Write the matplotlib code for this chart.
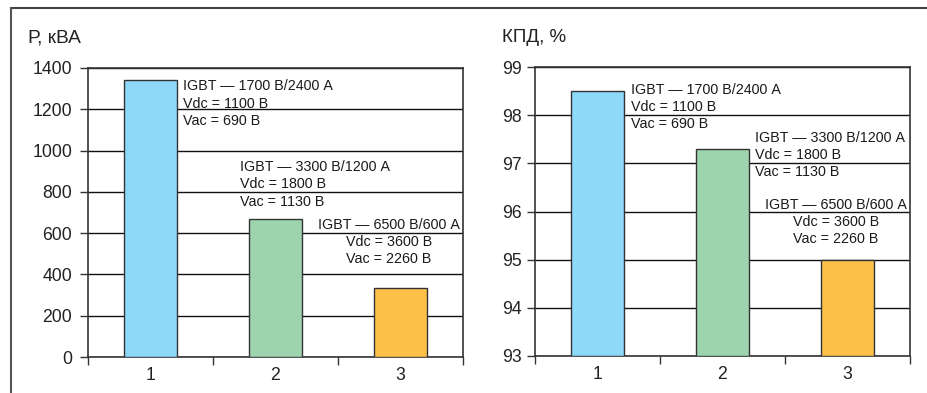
import matplotlib.pyplot as plt
from matplotlib.lines import Line2D

plt.rcParams['font.family'] = ['Liberation Sans', 'DejaVu Sans']

# categories (converter variants)
variants = ['1', '2', '3']
power_kva = [1340, 670, 335]
efficiency = [98.5, 97.3, 95.0]
bar_colors = ['#8ed8f8', '#9dd4ae', '#ffc04a']

notes = [
    'IGBT — 1700 В/2400 А\nVdc = 1100 В\nVac = 690 В',
    'IGBT — 3300 В/1200 А\nVdc = 1800 В\nVac = 1130 В',
    'IGBT — 6500 В/600 А\nVdc = 3600 В\nVac = 2260 В',
]

W, H = 928, 393
fig = plt.figure(figsize=(W / 100, H / 100), dpi=100)


def px_axes(x0, y0, x1, y1):
    return fig.add_axes([x0 / W, 1 - y1 / H, (x1 - x0) / W, (y1 - y0) / H])


def draw_panel(ax, values, ylim, yticks, label_pad):
    x = [i + 0.5 for i in range(len(values))]
    ax.bar(x, [v - ylim[0] for v in values], bottom=ylim[0], width=0.42,
           color=bar_colors, edgecolor='#333333', linewidth=1.0, zorder=3)
    ax.set_xlim(0, len(values))
    ax.set_ylim(*ylim)
    ax.set_yticks(yticks)
    ax.set_yticklabels([str(t) for t in yticks])
    ax.set_xticks(range(len(values) + 1))
    ax.set_xticklabels([])
    ax.set_xticks(x, minor=True)
    ax.set_xticklabels(variants, minor=True)
    ax.tick_params(axis='x', which='major', direction='out', length=5.5,
                   width=1.0, color='#333333')
    ax.tick_params(axis='x', which='minor', length=0, pad=7,
                   labelsize=12.7, labelcolor='#222222')
    ax.tick_params(axis='y', direction='out', length=6, width=1.0,
                   color='#333333', pad=label_pad, labelsize=12.7,
                   labelcolor='#222222')
    ax.grid(axis='y', color='#111111', linewidth=1.0, zorder=0)
    ax.set_axisbelow(True)
    for s in ax.spines.values():
        s.set_color('#333333')
        s.set_linewidth(1.2)


def note(ax, x, y, text, centered=False):
    ax.text(x, y, text, ha='center' if centered else 'left', va='center',
            fontsize=10.3, linespacing=1.3, color='#1a1a1a',
            multialignment='center' if centered else 'left', zorder=4)


# left: power
ax1 = px_axes(88, 68, 463, 357)
draw_panel(ax1, power_kva, (0, 1400), list(range(0, 1401, 200)), 5.5)
note(ax1, 0.76, 1228, notes[0])
note(ax1, 1.216, 836, notes[1])
note(ax1, 2.408, 557, notes[2], centered=True)

# right: efficiency
ax2 = px_axes(535, 67, 910, 356)
draw_panel(ax2, efficiency, (93, 99), list(range(93, 100)), 3.5)
note(ax2, 0.768, 98.17, notes[0])
note(ax2, 1.76, 97.17, notes[1])
note(ax2, 2.408, 95.78, notes[2], centered=True)

# axis captions
fig.text(28 / W, 1 - 38 / H, 'Р, кВА', ha='left', va='center',
         fontsize=13.8, color='#222222')
fig.text(502 / W, 1 - 38 / H, 'КПД, %', ha='left', va='center',
         fontsize=13.5, color='#222222')

# outer frame (top and left edges)
fig.add_artist(Line2D([11 / W, 1], [1 - 8 / H, 1 - 8 / H],
                      transform=fig.transFigure, color='#444444', linewidth=1.5))
fig.add_artist(Line2D([11 / W, 11 / W], [0, 1 - 8 / H],
                      transform=fig.transFigure, color='#555555', linewidth=1.5))

fig.savefig('out.png', dpi=100)
